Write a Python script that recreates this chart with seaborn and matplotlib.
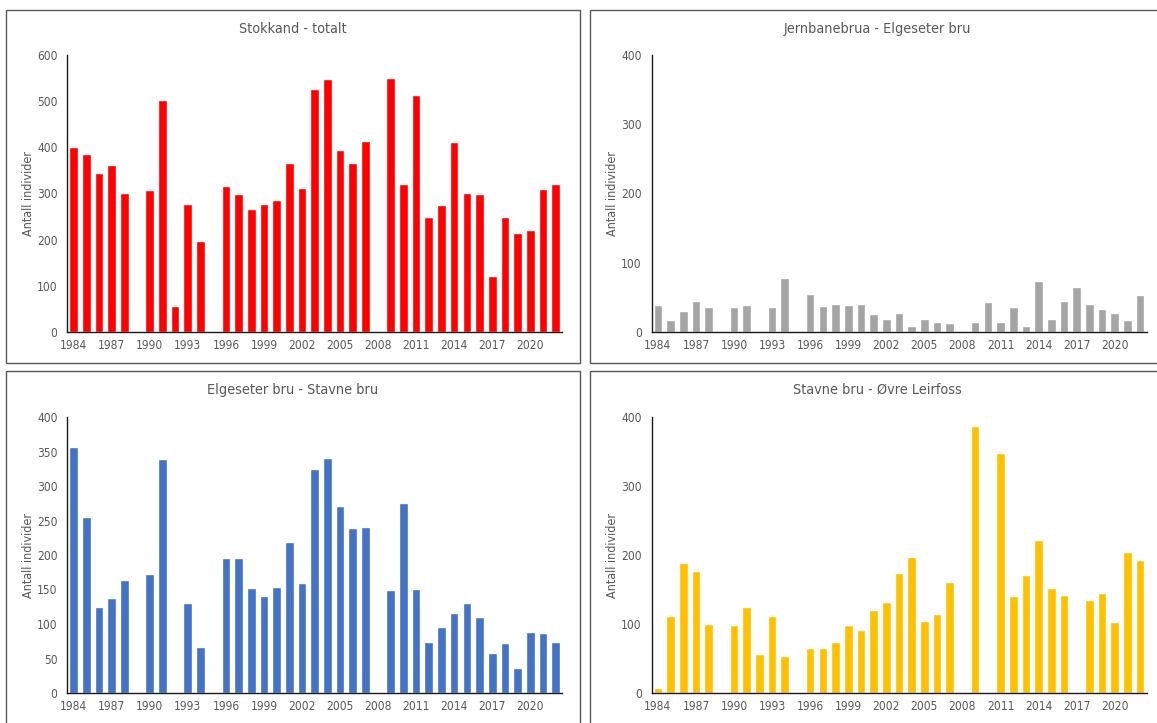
import numpy as np
import pandas as pd
import matplotlib
matplotlib.use("Agg")
import matplotlib.pyplot as plt
from matplotlib.patches import Rectangle
from matplotlib import font_manager
import seaborn as sns

nan = np.nan

years = list(range(1984, 2023))

# Counts per river stretch; NaN marks years without a survey
stokkand_totalt = [401, 386, 344, 362, 300, nan, 307, 503, 56, 278, 198, nan,
                   316, 298, 266, 278, 285, 365, 312, 527, 547, 395, 367, 414,
                   nan, 551, 321, 514, 250, 275, 412, 302, 298, 122, 249, 215,
                   221, 309, 320]
jernbanebrua_elgeseter = [39, 18, 31, 45, 36, nan, 36, 39, 0, 36, 78, nan,
                          55, 37, 40, 39, 41, 26, 19, 27, 9, 19, 14, 13,
                          nan, 14, 44, 14, 36, 9, 73, 19, 45, 65, 41, 33,
                          28, 17, 53]
elgeseter_stavne = [356, 255, 124, 138, 164, nan, 172, 339, 0, 130, 67, nan,
                    196, 196, 152, 140, 153, 219, 160, 325, 340, 271, 239, 240,
                    nan, 149, 276, 151, 74, 96, 116, 130, 110, 58, 73, 36,
                    89, 87, 74]
stavne_leirfoss = [7, 112, 188, 177, 100, nan, 99, 125, 56, 112, 53, nan,
                   65, 65, 74, 98, 91, 120, 132, 174, 197, 104, 114, 161,
                   nan, 387, 0, 348, 140, 171, 222, 152, 142, 0, 135, 145,
                   103, 204, 193]

titles = ["Stokkand - totalt", "Jernbanebrua - Elgeseter bru",
          "Elgeseter bru - Stavne bru", "Stavne bru - Øvre Leirfoss"]
colors = ["#FF0000", "#A5A5A5", "#4472C4", "#FFC000"]
y_max = [600, 400, 400, 400]
y_step = [100, 100, 50, 100]
tick_years = years[::3]

sns.set_theme(style="white")

# pick a narrow sans face when one is available
installed = {(f.name, f.stretch) for f in font_manager.fontManager.ttflist}
names = {n for n, _ in installed}
font_kw = {}
if "Liberation Sans Narrow" in names:
    plt.rcParams["font.family"] = ["Liberation Sans Narrow", "DejaVu Sans"]
    base = 9.6
elif ("DejaVu Sans", "condensed") in installed or ("DejaVu Sans", 87.5) in installed:
    plt.rcParams["font.family"] = ["DejaVu Sans"]
    plt.rcParams["font.stretch"] = "condensed"
    base = 8.6
else:
    plt.rcParams["font.family"] = ["Liberation Sans", "DejaVu Sans"]
    base = 8.8

W, H = 1157, 723
fig = plt.figure(figsize=(W / 100, H / 100), dpi=100)


def fx(px):
    return px / W


def fy(py):
    return 1 - py / H


text_grey = "#595959"

# chart frames (pixel boxes: left, top, right, bottom)
frames = [(6, 10, 580, 363), (590, 10, 1170, 363),
          (6, 371, 580, 740), (590, 371, 1170, 740)]
# plot areas (pixel boxes)
areas = [(67.3, 55, 562, 332), (651.5, 55, 1146.5, 332),
         (67.3, 417, 562, 693), (651.5, 417, 1146.5, 693)]

series = [stokkand_totalt, jernbanebrua_elgeseter, elgeseter_stavne, stavne_leirfoss]

for i in range(4):
    l, t, r, b = frames[i]
    fig.add_artist(Rectangle((fx(l), fy(b)), fx(r - l), (b - t) / H,
                             transform=fig.transFigure, fill=False,
                             edgecolor="#595959", linewidth=1.0))
    al, at, ar, ab = areas[i]
    ax = fig.add_axes([fx(al), fy(ab), fx(ar - al), (ab - at) / H])

    df = pd.DataFrame({"year": years, "count": series[i]})
    sns.barplot(data=df, x="year", y="count", order=years, color=colors[i],
                saturation=1, width=0.68, ax=ax, errorbar=None)

    ax.set_xlim(-0.5, len(years) - 0.5)
    ax.set_ylim(0, y_max[i])
    ax.set_yticks(np.arange(0, y_max[i] + 1, y_step[i]))
    ax.set_xticks([years.index(y) for y in tick_years])
    ax.set_xticklabels([str(y) for y in tick_years])
    ax.tick_params(axis="both", length=0, labelsize=base, colors=text_grey)
    ax.tick_params(axis="y", pad=7)
    ax.tick_params(axis="x", pad=5)

    for side in ["top", "right"]:
        ax.spines[side].set_visible(False)
    for side in ["left", "bottom"]:
        ax.spines[side].set_color("#1a1a1a")
        ax.spines[side].set_linewidth(1.0)

    ax.set_xlabel("")
    ax.set_ylabel("Antall individer", fontsize=base + 0.4, color=text_grey)
    ax.yaxis.set_label_coords(-0.066, 0.5)

    fig.text(fx((l + (r if r < W else 1164)) / 2), fy(t + 19), titles[i],
             ha="center", va="center", fontsize=base + 1.8, color=text_grey)

fig.savefig("out.png", dpi=100)
